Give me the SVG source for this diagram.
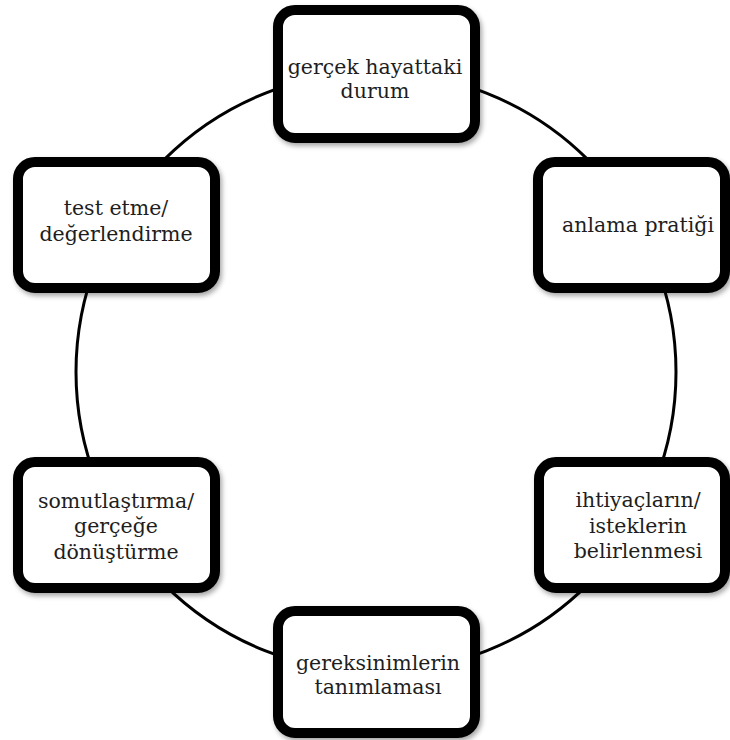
<svg xmlns="http://www.w3.org/2000/svg" width="730" height="740" viewBox="0 0 730 740">
  <defs>
    <filter id="sh" x="-10%" y="-10%" width="125%" height="130%">
      <feDropShadow dx="2" dy="3" stdDeviation="2.5" flood-color="#000" flood-opacity="0.35"/>
    </filter>
    <style>
      .box { fill: #ffffff; stroke: #000000; stroke-width: 10; filter: url(#sh); }
      .lbl { font-family: "DejaVu Serif", serif; font-size: 20.5px; fill: #1e1e1e; text-anchor: middle; }
      .ring { fill: none; stroke: #000000; stroke-width: 3; }
    </style>
  </defs>
  <rect width="730" height="740" fill="#ffffff"/>
  <g id="connectors">
    <circle class="ring" cx="376" cy="372" r="300"/>
  </g>
  <g id="node-gercek-hayattaki-durum">
    <rect class="box" x="278" y="10" width="197" height="128" rx="17"/>
    <text class="lbl" x="375" y="74">gerçek hayattaki</text>
    <text class="lbl" x="375" y="98">durum</text>
  </g>
  <g id="node-anlama-pratigi">
    <rect class="box" x="538" y="162" width="187" height="126" rx="17"/>
    <text class="lbl" x="638" y="232">anlama pratiği</text>
  </g>
  <g id="node-test-etme">
    <rect class="box" x="18" y="162" width="197" height="126" rx="17"/>
    <text class="lbl" x="116" y="215">test etme/</text>
    <text class="lbl" x="116" y="241">değerlendirme</text>
  </g>
  <g id="node-somutlastirma">
    <rect class="box" x="18" y="462" width="197" height="126" rx="17"/>
    <text class="lbl" x="116" y="508">somutlaştırma/</text>
    <text class="lbl" x="116" y="533">gerçeğe</text>
    <text class="lbl" x="116" y="559">dönüştürme</text>
  </g>
  <g id="node-ihtiyaclarin">
    <rect class="box" x="539" y="462" width="186" height="126" rx="17"/>
    <text class="lbl" x="638" y="507">ihtiyaçların/</text>
    <text class="lbl" x="638" y="533">isteklerin</text>
    <text class="lbl" x="638" y="558">belirlenmesi</text>
  </g>
  <g id="node-gereksinimlerin">
    <rect class="box" x="278" y="611" width="197" height="122" rx="17"/>
    <text class="lbl" x="378" y="670">gereksinimlerin</text>
    <text class="lbl" x="378" y="694">tanımlaması</text>
  </g>
</svg>
